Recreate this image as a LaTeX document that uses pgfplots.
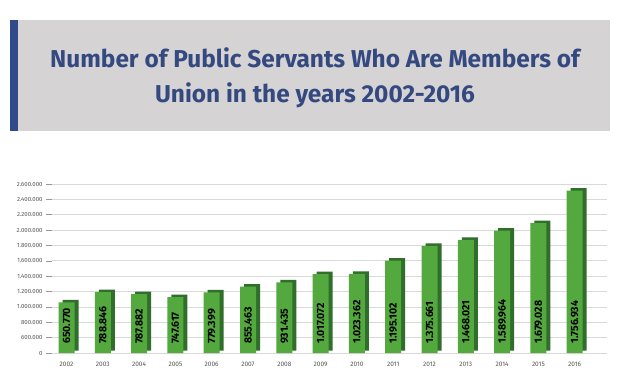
\documentclass[border=0pt]{standalone}
\usepackage{pgfplots}
\pgfplotsset{compat=1.18}
\usepackage{pgfplotstable}
\usepackage{fontspec}
\setmainfont{Fira Sans}
\definecolor{titlebg}{HTML}{D5D3D4}
\definecolor{titleblue}{HTML}{34497F}
\definecolor{stripe}{HTML}{314A8A}
\definecolor{barfront}{HTML}{53A83E}
\definecolor{barside}{HTML}{2F6E2B}
\definecolor{gridgray}{HTML}{D9D9D9}
\definecolor{labgray}{HTML}{555555}
\pgfplotstableread{
x h base label
0 1060000 400000 650.770
1 1194000 400000 788.846
2 1168000 400000 787.882
3 1126000 400000 747.617
4 1190000 400000 779.399
5 1264000 400000 855.463
6 1320000 400000 931.435
7 1428000 400000 1.017.072
8 1430000 400000 1.023.362
9 1602000 400000 1.195.102
10 1794000 400000 1.375.661
11 1872000 400000 1.468.021
12 1994000 400000 1.589.964
13 2090000 400000 1.679.028
14 2514000 400000 1.756.934
}\datatable
\begin{document}
\begin{tikzpicture}[x=1pt,y=1pt]
\useasboundingbox (0,0) rectangle (618,372);
\fill[white] (0,0) rectangle (618,372);
\fill[titlebg] (10,241) rectangle (610,352);
\fill[stripe] (10,241) rectangle (17.5,352);
\node[text=titleblue, font=\fontsize{24.4}{28}\selectfont\bfseries] at (315,314) {Number of Public Servants Who Are Members of};
\node[text=titleblue, font=\fontsize{24.4}{28}\selectfont\bfseries] at (315,277) {Union in the years 2002-2016};
\begin{axis}[
  at={(52pt,19pt)}, anchor=south west,
  scale only axis, width=555pt, height=169pt,
  xmin=-0.4, xmax=14.89,
  ymin=400000, ymax=2600000,
  scaled y ticks=false,
  axis x line=bottom, axis y line=left,
  axis line style={draw=none},
  xtick={0,...,14},
  xticklabels={2002,2003,2004,2005,2006,2007,2008,2009,2010,2011,2012,2013,2014,2015,2016},
  ytick={400000,600000,...,2600000},
  yticklabels={0,600.000,800.000,1.000.000,1.200.000,1.400.000,1.600.000,1.800.000,2.000.000,2.200.000,2.400.000,2.600.000},
  xtick style={draw=none},
  ytick style={draw=gridgray!70!black, line width=0.5pt},
  tick align=outside, major tick length=6pt,
  ymajorgrids, grid style={draw=gridgray, line width=0.8pt},
  xticklabel style={font=\fontsize{6.5}{7}\selectfont, text=labgray},
  yticklabel style={font=\fontsize{6}{7}\selectfont, text=labgray},
  clip=true,
]
\addplot[ybar, bar width=16pt, bar shift=0pt, fill=barside, draw=none, xshift=4pt, yshift=2.5pt] table[x=x,y=h] {\datatable};
\addplot[ybar, bar width=16pt, bar shift=0pt, fill=barfront, draw=none] table[x=x,y=h] {\datatable};
\addplot[draw=none, mark=none, nodes near coords, point meta=explicit symbolic,
  nodes near coords style={yshift=9pt, rotate=90, anchor=west, inner sep=0pt, font=\fontsize{10.5}{11}\selectfont\bfseries, text=black}]
  table[x=x,y=base,meta=label] {\datatable};
\end{axis}
\end{tikzpicture}
\end{document}
